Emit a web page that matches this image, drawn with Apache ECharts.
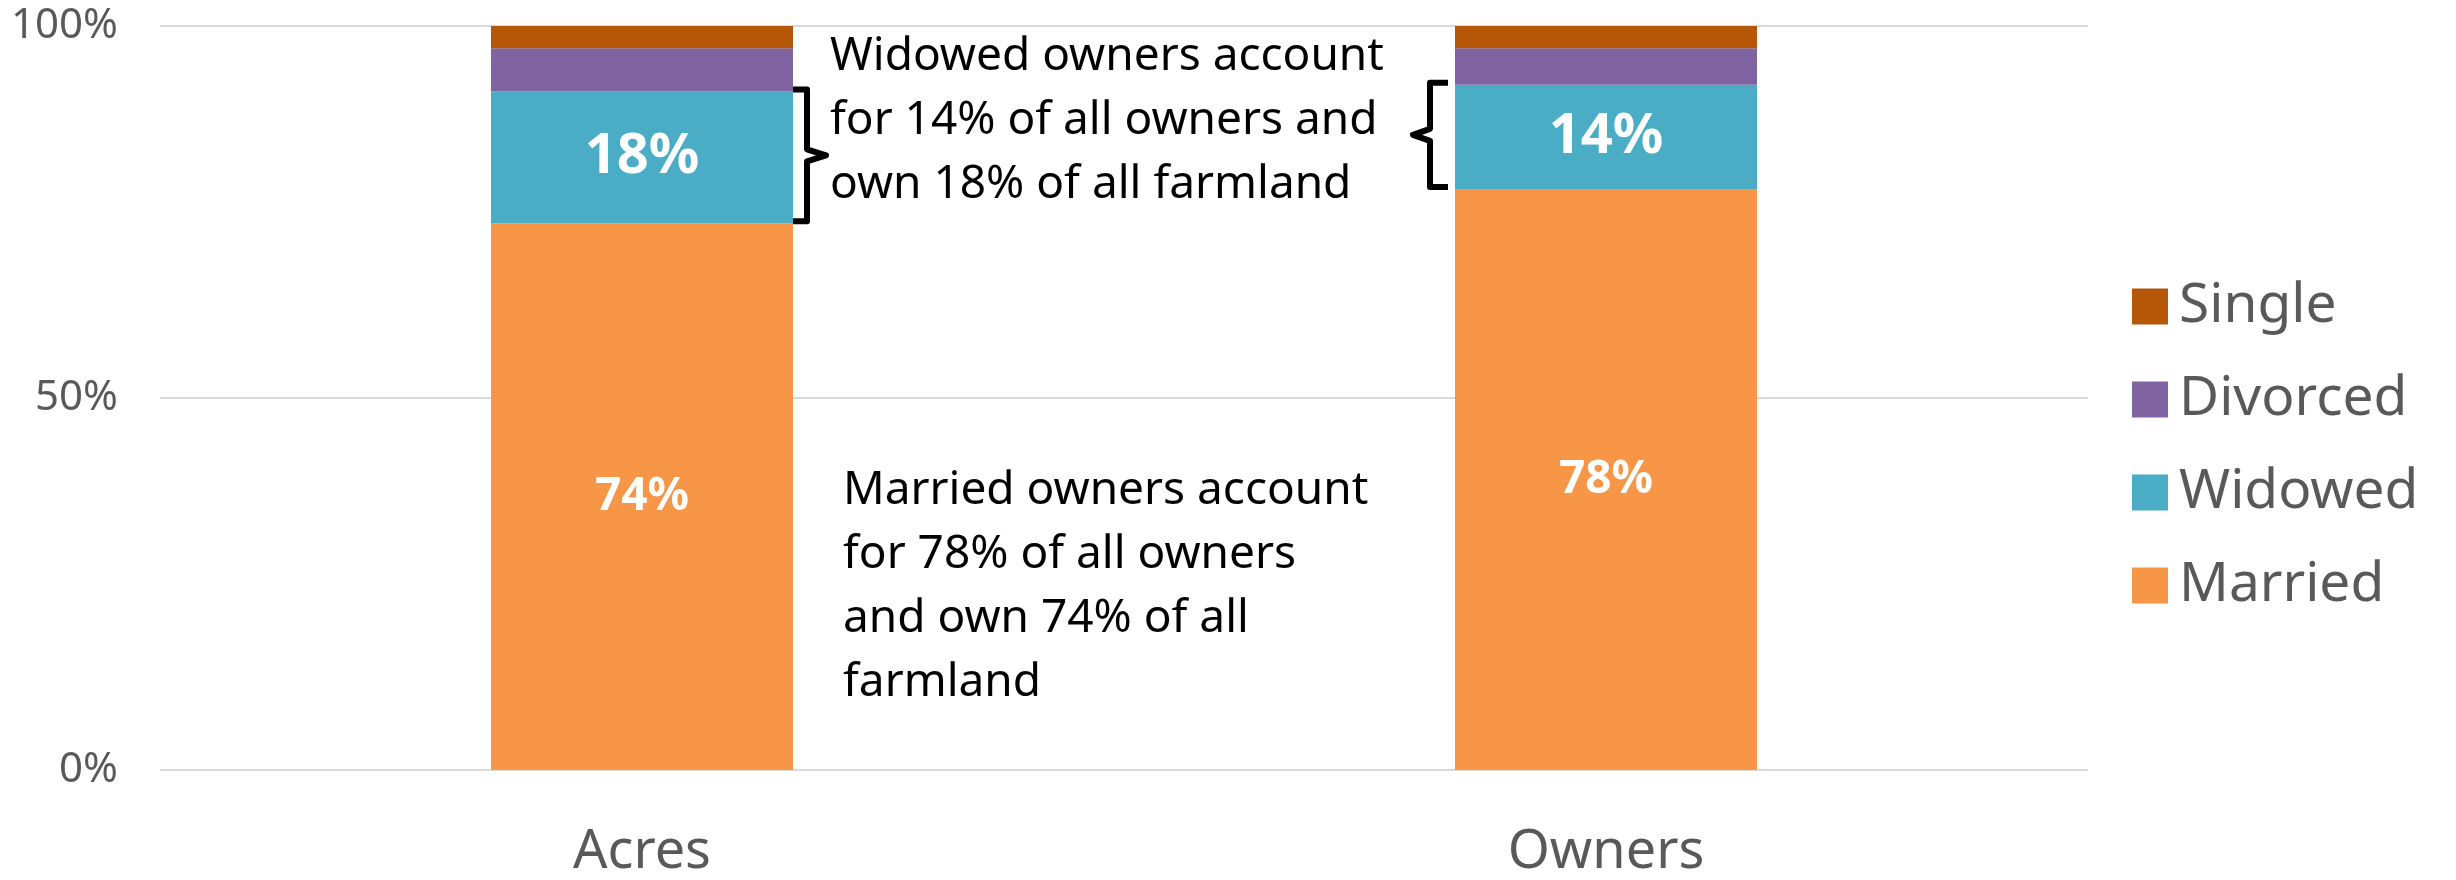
<!DOCTYPE html>
<html>
<head>
<meta charset="utf-8">
<title>Farmland ownership by marital status</title>
<script src="https://cdn.jsdelivr.net/npm/echarts@6/dist/echarts.min.js"></script>
<style>
  html, body { margin: 0; padding: 0; background: #fff; }
  #main { width: 2456px; height: 880px; }
</style>
</head>
<body>
<div id="main"></div>
<script>
// data (percent of total)
const categories = ['Acres', 'Owners']
const married = [73.5, 78.1]
const widowed = [17.7, 14.0]
const divorced = [5.8, 4.9]
const single = [3.0, 3.0]
const legendOrder = ['Single', 'Divorced', 'Widowed', 'Married']

const widowedNote = 'Widowed owners account\nfor 14% of all owners and\nown 18% of all farmland'
const marriedNote = 'Married owners account\nfor 78% of all owners\nand own 74% of all\nfarmland'

const FONT = 'Noto Sans'
const BAR_W = 302

const myChart = echarts.init(document.getElementById('main'))

const pctLabel = (size) => ({
  show: true,
  position: 'inside',
  color: '#fff',
  fontFamily: FONT,
  fontWeight: 'bold',
  fontSize: size,
  formatter: (p) => Math.round(p.value) + '%'
})

let option = {
  animation: false,
  backgroundColor: '#fff',
  grid: {
    left: 160,
    right: 368,
    top: 26,
    bottom: 108
  },
  legend: {
    orient: 'vertical',
    left: 2127,
    top: 274,
    data: legendOrder,
    icon: 'rect',
    itemWidth: 36,
    itemHeight: 36,
    itemGap: 38,
    textStyle: {
      color: '#595959',
      fontFamily: FONT,
      fontSize: 55,
      padding: [0, 0, 0, 6]
    }
  },
  xAxis: {
    type: 'category',
    data: categories,
    axisLine: { show: false },
    axisTick: { show: false },
    axisLabel: {
      color: '#595959',
      fontFamily: FONT,
      fontSize: 54,
      margin: 56
    }
  },
  yAxis: {
    type: 'value',
    min: 0,
    max: 100,
    interval: 50,
    axisLine: { show: false },
    axisTick: { show: false },
    axisLabel: {
      color: '#595959',
      fontFamily: FONT,
      fontSize: 42,
      margin: 42,
      formatter: '{value}%'
    },
    splitLine: {
      lineStyle: { color: '#d9d9d9', width: 2 }
    }
  },
  series: [
    {
      name: 'Married',
      type: 'bar',
      stack: 'total',
      barWidth: BAR_W,
      data: married,
      itemStyle: { color: '#F79646' },
      label: pctLabel(46)
    },
    {
      name: 'Widowed',
      type: 'bar',
      stack: 'total',
      barWidth: BAR_W,
      data: widowed,
      itemStyle: { color: '#4BACC6' },
      label: pctLabel(56)
    },
    {
      name: 'Divorced',
      type: 'bar',
      stack: 'total',
      barWidth: BAR_W,
      data: divorced,
      itemStyle: { color: '#8064A2' }
    },
    {
      name: 'Single',
      type: 'bar',
      stack: 'total',
      barWidth: BAR_W,
      data: single,
      itemStyle: { color: '#B65708' }
    }
  ]
}
myChart.setOption(option)

// braces next to the widowed segment, placed from the axis scales
const brace = (idx, side) => {
  const top = myChart.convertToPixel({ gridIndex: 0 }, [idx, married[idx] + widowed[idx]])
  const bot = myChart.convertToPixel({ gridIndex: 0 }, [idx, married[idx]])
  const yTop = top[1] - 2
  const yBot = bot[1] - 2
  const yMid = (yTop + yBot) / 2
  let x0, x1, x2
  if (side === 'right') {
    x0 = top[0] + BAR_W / 2
    x1 = x0 + 14
    x2 = x0 + 33
  } else {
    x0 = top[0] - BAR_W / 2 - 7
    x1 = x0 - 18
    x2 = x0 - 35
  }
  return {
    type: 'polyline',
    shape: {
      points: [[x0, yTop], [x1, yTop], [x1, yMid - 6], [x2, yMid], [x1, yMid + 6], [x1, yBot], [x0, yBot]]
    },
    style: { stroke: '#000', lineWidth: 6, fill: null, lineJoin: 'round' },
    z: 10
  }
}

myChart.setOption({
  graphic: [
    brace(0, 'right'),
    brace(1, 'left'),
    {
      type: 'text',
      left: 830,
      top: 25,
      style: {
        text: widowedNote,
        fill: '#000',
        font: '46px "Noto Sans"',
        lineHeight: 64
      },
      z: 10
    },
    {
      type: 'text',
      left: 843,
      top: 459,
      style: {
        text: marriedNote,
        fill: '#000',
        font: '46px "Noto Sans"',
        lineHeight: 64
      },
      z: 10
    }
  ]
})

window.addEventListener('resize', () => {
  myChart.resize()
})
</script>
</body>
</html>
